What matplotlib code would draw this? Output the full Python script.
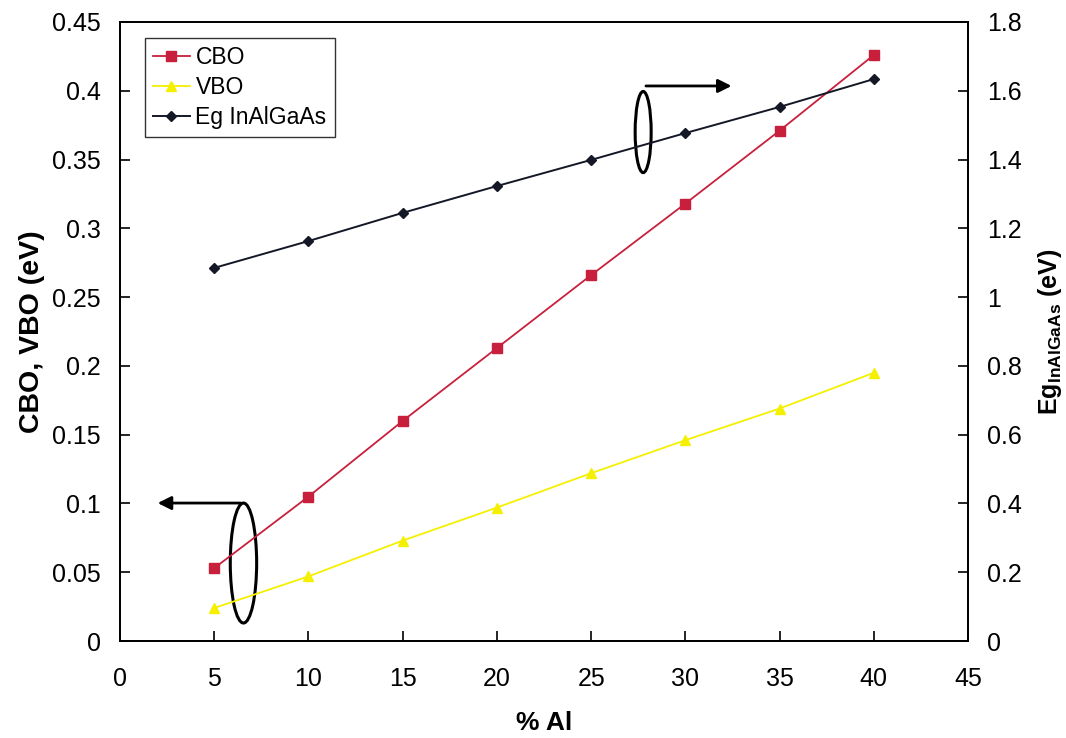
import matplotlib
matplotlib.use("Agg")
import matplotlib.pyplot as plt
from matplotlib.patches import Ellipse

plt.rcParams['font.family'] = ['Liberation Sans', 'DejaVu Sans']
plt.rcParams['mathtext.fontset'] = 'custom'
plt.rcParams['mathtext.rm'] = 'Liberation Sans'
plt.rcParams['mathtext.bf'] = 'Liberation Sans:bold'

# Aluminium content (%)
al_pct = [5, 10, 15, 20, 25, 30, 35, 40]
# Band offsets (eV)
cbo = [0.053, 0.105, 0.160, 0.213, 0.266, 0.318, 0.371, 0.426]
vbo = [0.024, 0.047, 0.073, 0.097, 0.122, 0.146, 0.169, 0.195]
# Band gap of InAlGaAs (eV)
eg = [1.085, 1.163, 1.245, 1.323, 1.399, 1.477, 1.553, 1.634]

left_ticks = [0, 0.05, 0.1, 0.15, 0.2, 0.25, 0.3, 0.35, 0.4, 0.45]
left_labels = ['0', '0.05', '0.1', '0.15', '0.2', '0.25', '0.3', '0.35', '0.4', '0.45']
right_ticks = [0, 0.2, 0.4, 0.6, 0.8, 1.0, 1.2, 1.4, 1.6, 1.8]
right_labels = ['0', '0.2', '0.4', '0.6', '0.8', '1', '1.2', '1.4', '1.6', '1.8']
x_ticks = [0, 5, 10, 15, 20, 25, 30, 35, 40, 45]

red = '#C8203C'
yellow = '#F5F000'
dark = '#141726'

fig = plt.figure(figsize=(10.66, 7.38), dpi=100)
ax = fig.add_axes([0.1126, 0.1314, 0.7955, 0.8388])
ax2 = ax.twinx()

l1, = ax.plot(al_pct, cbo, color=red, marker='s', markersize=6.5, linewidth=1.3, label='CBO')
l2, = ax.plot(al_pct, vbo, color=yellow, marker='^', markersize=7.5, linewidth=1.3, label='VBO')
l3, = ax2.plot(al_pct, eg, color=dark, marker='D', markersize=5.5, linewidth=1.4, label='Eg InAlGaAs')

ax.set_xlim(0, 45)
ax.set_ylim(0, 0.45)
ax2.set_ylim(0, 1.8)
ax.set_xticks(x_ticks)
ax.set_xticklabels([str(t) for t in x_ticks])
ax.set_yticks(left_ticks)
ax.set_yticklabels(left_labels)
ax2.set_yticks(right_ticks)
ax2.set_yticklabels(right_labels)

for a in (ax, ax2):
    a.tick_params(direction='in', length=7, width=1.2, labelsize=18, colors='black')
    for s in a.spines.values():
        s.set_linewidth(1.3)
ax.tick_params(axis='x', pad=19)
ax.tick_params(axis='y', pad=14)
ax2.tick_params(axis='y', pad=14)

ax.set_xlabel('% Al', fontsize=19, fontweight='bold', labelpad=14)
ax.set_ylabel('CBO, VBO (eV)', fontsize=20.5, fontweight='bold', labelpad=5)
ax2.set_ylabel(r'Eg$_{\mathbf{InAlGaAs}}$ (eV)', fontsize=18, fontweight='bold', labelpad=10)

leg = ax.legend(handles=[l1, l2, l3], loc='upper left', bbox_to_anchor=(0.0295, 0.974),
                borderaxespad=0, fontsize=16.5, frameon=True, fancybox=False, edgecolor='black',
                handlelength=1.6, borderpad=0.35, labelspacing=0.3, handletextpad=0.25)
leg.get_frame().set_linewidth(1.0)

# Ellipse + arrow pointing at the right axis (band gap)
ax.add_patch(Ellipse((27.76, 0.370), 0.85, 0.059, fill=False, edgecolor='black', linewidth=2.2))
ax.annotate('', xy=(32.6, 0.4035), xytext=(27.76, 0.4035),
            arrowprops=dict(arrowstyle='-|>', color='black', lw=2.0, mutation_scale=20))

# Ellipse + arrow pointing at the left axis (band offsets)
ax.add_patch(Ellipse((6.55, 0.0567), 1.4, 0.0872, fill=False, edgecolor='black', linewidth=2.2))
ax.annotate('', xy=(1.85, 0.1003), xytext=(6.55, 0.1003),
            arrowprops=dict(arrowstyle='-|>', color='black', lw=2.0, mutation_scale=20))

fig.savefig('out.png', dpi=100)
